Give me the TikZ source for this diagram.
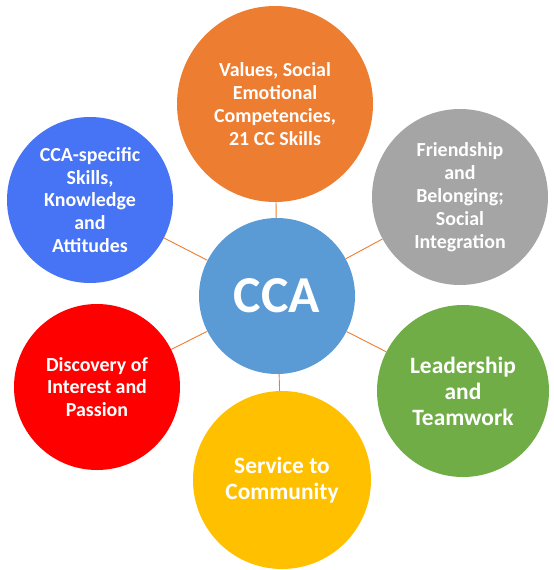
\documentclass[tikz,border=0pt]{standalone}
\usepackage{fontspec}
\setmainfont{Carlito}
\usepackage{xcolor}
\usetikzlibrary{positioning}

\definecolor{ccablue}{HTML}{5B9BD5}
\definecolor{valorange}{HTML}{ED7D31}
\definecolor{skillblue}{HTML}{4674F5}
\definecolor{friendgrey}{HTML}{A5A5A5}
\definecolor{leadgreen}{HTML}{70AD47}
\definecolor{serviceyellow}{HTML}{FFC000}
\definecolor{passionred}{HTML}{FF0000}

\begin{document}
\begin{tikzpicture}[
    x=1bp, y=-1bp,
    % Gaya untuk lingkaran di sekeliling pusat
    bubble/.style={
        circle,
        inner sep=0pt,
        align=center,
        text=white,
        font=\bfseries\fontsize{20}{23}\selectfont
    },
    % Gaya untuk lingkaran pusat
    hub/.style={
        circle,
        inner sep=0pt,
        minimum size=156bp,
        fill=ccablue,
        text=white,
        font=\bfseries\fontsize{52}{60}\selectfont
    },
    % Gaya untuk garis penghubung
    link/.style={
        draw=valorange,
        line width=0.9bp
    }
]
\useasboundingbox (0,0) rectangle (554,570);

% =====================================================================
% DEFINISI NODE / LINGKARAN
% =====================================================================
\node (cca) [hub] at (277,296) {CCA};
\node (values) [bubble, fill=valorange, minimum size=196bp] at (275,104)
    {Values, Social\\Emotional\\Competencies,\\21 CC Skills};
\node (friend) [bubble, fill=friendgrey, minimum size=176bp] at (460,197)
    {Friendship\\and\\Belonging;\\Social\\Integration};
\node (lead) [bubble, fill=leadgreen, minimum size=172bp,
    font=\bfseries\fontsize{23.5}{26}\selectfont] at (463,391)
    {Leadership\\and\\Teamwork};
\node (service) [bubble, fill=serviceyellow, minimum size=178bp,
    font=\bfseries\fontsize{23.5}{26}\selectfont] at (282,480)
    {Service to\\Community};
\node (passion) [bubble, fill=passionred, minimum size=166bp] at (97,387)
    {Discovery of\\Interest and\\Passion};
\node (skills) [bubble, fill=skillblue, minimum size=166bp] at (90,200)
    {CCA-specific\\Skills,\\Knowledge\\and\\Attitudes};

% =====================================================================
% KONEKSI GARIS
% =====================================================================
\draw [link] (cca) -- (values);
\draw [link] (cca) -- (friend);
\draw [link] (cca) -- (lead);
\draw [link] (cca) -- (service);
\draw [link] (cca) -- (passion);
\draw [link] (cca) -- (skills);

\end{tikzpicture}
\end{document}
